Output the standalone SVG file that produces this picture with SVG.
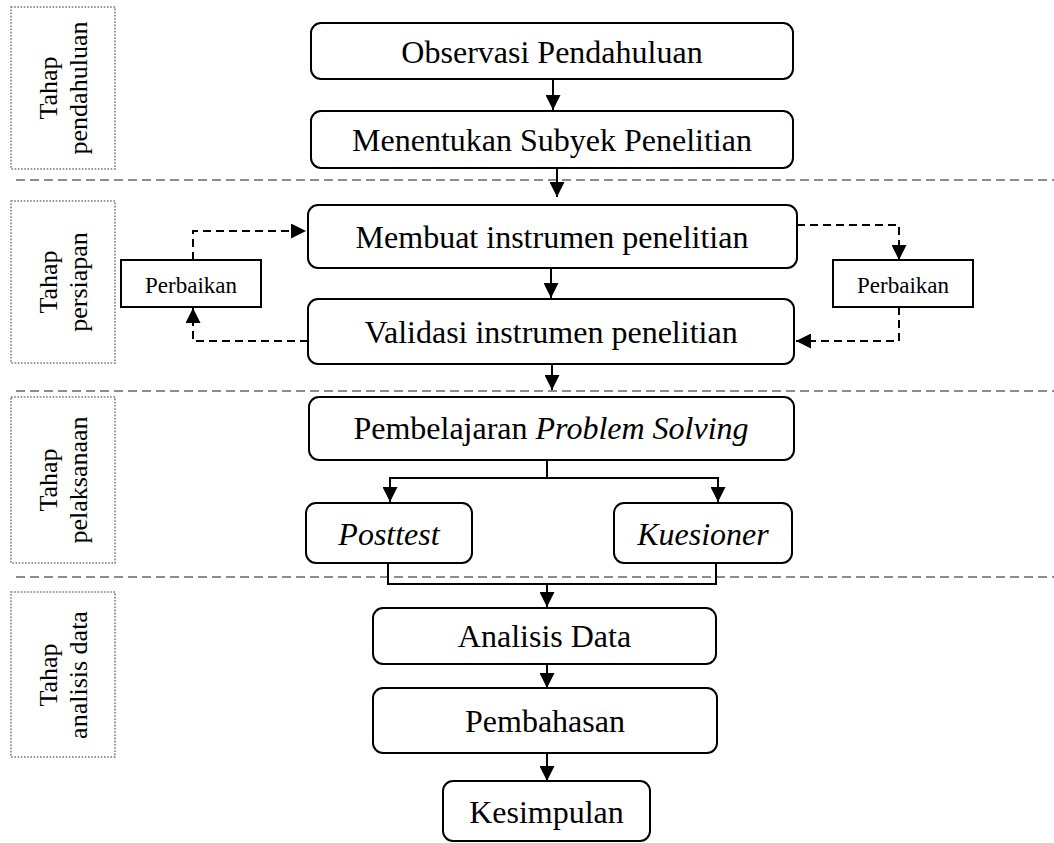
<svg xmlns="http://www.w3.org/2000/svg" width="1054" height="843" viewBox="0 0 1054 843">
<style>
  .box{fill:#fff;stroke:#000;stroke-width:2}
  .sq{fill:#fff;stroke:#000;stroke-width:2}
  .t{font-family:"Liberation Serif","Times New Roman",serif;font-size:32px;fill:#000;text-anchor:middle}
  .it{font-style:italic}
  .s{font-family:"Liberation Serif","Times New Roman",serif;font-size:23px;fill:#000;text-anchor:middle}
  .v{font-family:"Liberation Serif","Times New Roman",serif;font-size:26px;fill:#000;text-anchor:middle}
  .stage{fill:none;stroke:#7a7a7a;stroke-width:1.6;stroke-dasharray:1.6 1.6}
  .sep{stroke:#8c8c8c;stroke-width:2;stroke-dasharray:9 5;fill:none}
  .c{fill:none;stroke:#000;stroke-width:2}
  .d{fill:none;stroke:#000;stroke-width:2;stroke-dasharray:8 5}
</style>
<defs>
  <marker id="ah" markerUnits="userSpaceOnUse" markerWidth="15" markerHeight="15" refX="15" refY="7.5" orient="auto">
    <path d="M0,0 L15,7.5 L0,15 z" fill="#000"/>
  </marker>
</defs>

<g id="separators">
  <line class="sep" x1="16" y1="180" x2="1054" y2="180"/>
  <line class="sep" x1="16" y1="391" x2="1054" y2="391"/>
  <line class="sep" x1="16" y1="577" x2="1054" y2="577"/>
</g>

<g id="stage1">
  <rect class="stage" x="11" y="7" width="104" height="162"/>
  <text class="v" transform="translate(63,88) rotate(-90)"><tspan x="0" y="-6">Tahap</tspan><tspan x="0" y="24">pendahuluan</tspan></text>
</g>
<g id="stage2">
  <rect class="stage" x="11" y="201" width="104" height="162"/>
  <text class="v" transform="translate(63,282) rotate(-90)"><tspan x="0" y="-6">Tahap</tspan><tspan x="0" y="24">persiapan</tspan></text>
</g>
<g id="stage3">
  <rect class="stage" x="11" y="397" width="104" height="166"/>
  <text class="v" transform="translate(63,480) rotate(-90)"><tspan x="0" y="-6">Tahap</tspan><tspan x="0" y="24">pelaksanaan</tspan></text>
</g>
<g id="stage4">
  <rect class="stage" x="11" y="592" width="104" height="165"/>
  <text class="v" transform="translate(63,675) rotate(-90)"><tspan x="0" y="-6">Tahap</tspan><tspan x="0" y="24">analisis data</tspan></text>
</g>

<g id="connectors">
  <line class="c" x1="553" y1="79" x2="553" y2="110" marker-end="url(#ah)"/>
  <line class="c" x1="557" y1="168" x2="557" y2="197" marker-end="url(#ah)"/>
  <line class="c" x1="551" y1="268" x2="551" y2="298" marker-end="url(#ah)"/>
  <line class="c" x1="552" y1="364" x2="552" y2="390" marker-end="url(#ah)"/>
  <polyline class="c" points="547,460 547,478"/>
  <polyline class="c" points="390,478 718,478"/>
  <line class="c" x1="390" y1="477" x2="390" y2="502" marker-end="url(#ah)"/>
  <line class="c" x1="718" y1="477" x2="718" y2="502" marker-end="url(#ah)"/>
  <polyline class="c" points="388,563 388,584 716,584 716,563"/>
  <line class="c" x1="547" y1="584" x2="547" y2="607" marker-end="url(#ah)"/>
  <line class="c" x1="547" y1="664" x2="547" y2="688" marker-end="url(#ah)"/>
  <line class="c" x1="547" y1="753" x2="547" y2="781" marker-end="url(#ah)"/>
  <polyline class="d" points="193,260 193,231 306,231" marker-end="url(#ah)"/>
  <polyline class="d" points="308,341 193,341 193,308" marker-end="url(#ah)"/>
  <polyline class="d" points="797,225 899,225 899,260" marker-end="url(#ah)"/>
  <polyline class="d" points="899,307 899,341 796,341" marker-end="url(#ah)"/>
</g>

<g id="observasi">
  <rect class="box" x="311" y="23" width="482" height="56" rx="10"/>
  <text class="t" x="552" y="63">Observasi Pendahuluan</text>
</g>
<g id="menentukan">
  <rect class="box" x="311" y="111" width="482" height="57" rx="10"/>
  <text class="t" x="552" y="151">Menentukan Subyek Penelitian</text>
</g>
<g id="membuat">
  <rect class="box" x="308" y="205" width="489" height="63" rx="10"/>
  <text class="t" x="552" y="248">Membuat instrumen penelitian</text>
</g>
<g id="validasi">
  <rect class="box" x="308" y="299" width="486" height="65" rx="10"/>
  <text class="t" x="551" y="343">Validasi instrumen penelitian</text>
</g>
<g id="perbaikan-kiri">
  <rect class="sq" x="121" y="260" width="140" height="47"/>
  <text class="s" x="191" y="293">Perbaikan</text>
</g>
<g id="perbaikan-kanan">
  <rect class="sq" x="833" y="260" width="140" height="47"/>
  <text class="s" x="903" y="293">Perbaikan</text>
</g>
<g id="pembelajaran">
  <rect class="box" x="309" y="397" width="485" height="63" rx="10"/>
  <text class="t" x="551" y="439">Pembelajaran <tspan class="it">Problem Solving</tspan></text>
</g>
<g id="posttest">
  <rect class="box" x="306" y="503" width="166" height="60" rx="10"/>
  <text class="t it" x="389" y="545">Posttest</text>
</g>
<g id="kuesioner">
  <rect class="box" x="614" y="503" width="178" height="60" rx="10"/>
  <text class="t it" x="703" y="545">Kuesioner</text>
</g>
<g id="analisis">
  <rect class="box" x="373" y="608" width="343" height="56" rx="10"/>
  <text class="t" x="544.5" y="647">Analisis Data</text>
</g>
<g id="pembahasan">
  <rect class="box" x="373" y="688" width="344" height="65" rx="10"/>
  <text class="t" x="545" y="732">Pembahasan</text>
</g>
<g id="kesimpulan">
  <rect class="box" x="443" y="781" width="207" height="60" rx="10"/>
  <text class="t" x="546.5" y="823">Kesimpulan</text>
</g>
</svg>
